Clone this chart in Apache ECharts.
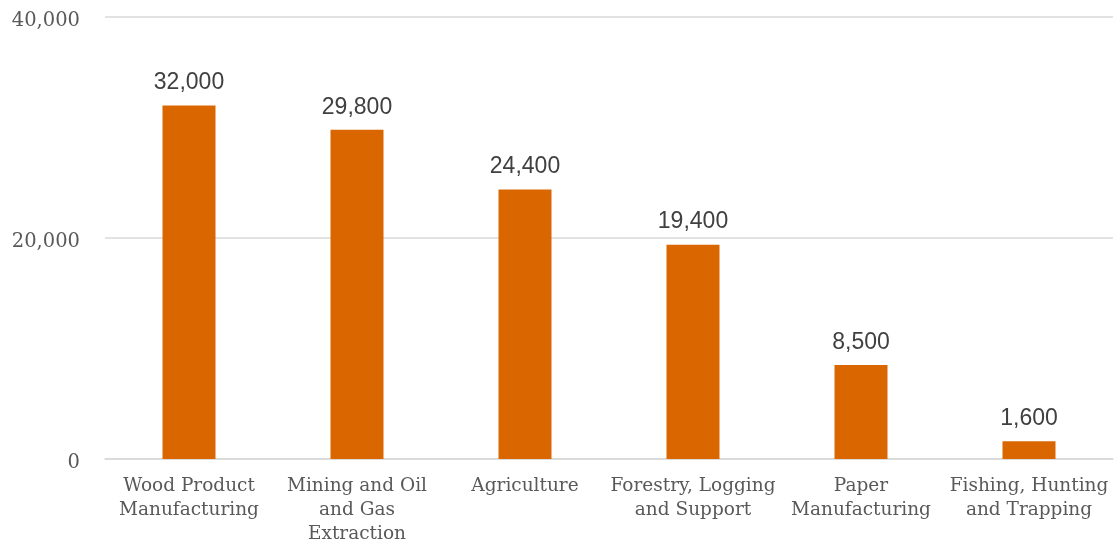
<!DOCTYPE html>
<html>
<head>
<meta charset="utf-8">
<script src="https://cdn.jsdelivr.net/npm/echarts@6/dist/echarts.min.js"></script>
<style>html,body{margin:0;padding:0;background:#fff;}#c{width:1116px;height:545px;}</style>
</head>
<body>
<div id="c"></div>
<script>
const categories = ["Wood Product\nManufacturing", "Mining and Oil\nand Gas\nExtraction", "Agriculture", "Forestry, Logging\nand Support", "Paper\nManufacturing", "Fishing, Hunting\nand Trapping"];
const values = [32000, 29800, 24400, 19400, 8500, 1600];
const yTicks = [0, 20000, 40000];

const chart = echarts.init(document.getElementById('c'));
chart.setOption({
  animation: false,
  grid: { left: 105, right: 3, top: 17, bottom: 86, containLabel: false, outerBoundsMode: 'none' },
  xAxis: {
    type: 'category',
    data: categories,
    axisLine: { show: true, lineStyle: { color: '#d9d9d9', width: 1.5 } },
    axisTick: { show: false },
    axisLabel: {
      interval: 0,
      margin: 15,
      color: '#595959',
      fontFamily: 'DejaVu Serif',
      fontSize: 18.5,
      lineHeight: 24
    }
  },
  yAxis: {
    type: 'value',
    min: 0,
    max: 40000,
    interval: 20000,
    axisLine: { show: false },
    axisTick: { show: false },
    splitLine: { lineStyle: { color: '#d9d9d9', width: 1.5 } },
    axisLabel: {
      margin: 25,
      color: '#595959',
      fontFamily: 'DejaVu Serif',
      fontSize: 19.5,
      verticalAlign: 'top',
      lineHeight: 8,
      formatter: function (v) { return yTicks.indexOf(v) >= 0 ? v.toLocaleString('en-US') : ''; }
    }
  },
  series: [{
    type: 'bar',
    data: values,
    barWidth: 53,
    itemStyle: { color: '#DA6600' },
    label: {
      show: true,
      position: 'top',
      distance: 11,
      color: '#404040',
      fontFamily: 'Liberation Sans',
      fontSize: 23,
      formatter: function (p) { return p.value.toLocaleString('en-US'); }
    }
  }]
});
</script>
</body>
</html>
